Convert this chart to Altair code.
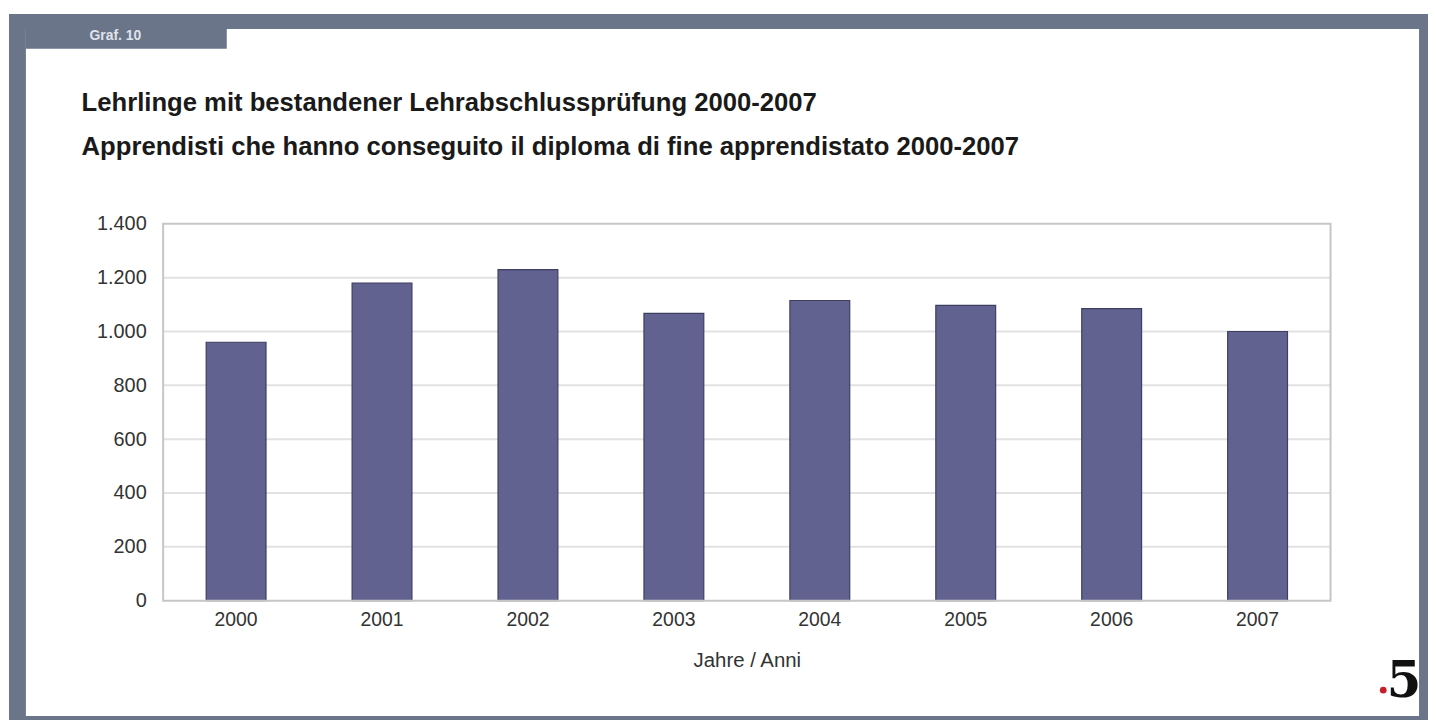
import altair as alt
import pandas as pd

years = ["2000", "2001", "2002", "2003", "2004", "2005", "2006", "2007"]
values = [960, 1180, 1230, 1067, 1115, 1097, 1085, 1000]
grid_values = [200, 400, 600, 800, 1000, 1200]
y_ticks = [0, 200, 400, 600, 800, 1000, 1200, 1400]
y_domain = [0, 1400]

title_lines = [
    "Lehrlinge mit bestandener Lehrabschlussprüfung 2000-2007",
    "Apprendisti che hanno conseguito il diploma di fine apprendistato 2000-2007",
]
tab_label = "Graf. 10"
x_title = "Jahre / Anni"

W, H = 1174, 379
FRAME = "#6b7589"
FONT = "Liberation Sans"

df = pd.DataFrame({"year": years, "value": values})
one = pd.DataFrame({"k": [0]})

yscale = alt.Scale(domain=y_domain)
yaxis = alt.Axis(title=None, values=y_ticks,
                 labelExpr="replace(format(datum.value, ','), ',', '.')",
                 labelFontSize=20, labelFont=FONT, labelColor="#333333",
                 labelPadding=17, ticks=False, domain=False, grid=False,
                 zindex=1)

outer = alt.Chart(one).mark_rect(color=FRAME).encode(
    x=alt.value(-155), x2=alt.value(1272), y=alt.value(-211), y2=alt.value(499))
inner = alt.Chart(one).mark_rect(color="white").encode(
    x=alt.value(-138), x2=alt.value(1263), y=alt.value(-196), y2=alt.value(495))
tab = alt.Chart(one).mark_rect(color=FRAME).encode(
    x=alt.value(-138), x2=alt.value(64), y=alt.value(-198), y2=alt.value(-176))
tab_text = alt.Chart(one).mark_text(
    text=tab_label, font=FONT, fontSize=14, fontWeight="bold", color="#dfe3ea",
    align="center", baseline="middle").encode(x=alt.value(-48), y=alt.value(-189))
t1 = alt.Chart(one).mark_text(
    text=title_lines[0], font=FONT, fontSize=25.8, fontWeight="bold", color="#1a1a1a",
    align="left", baseline="middle").encode(x=alt.value(-82), y=alt.value(-121))
t2 = alt.Chart(one).mark_text(
    text=title_lines[1], font=FONT, fontSize=25.8, fontWeight="bold", color="#1a1a1a",
    align="left", baseline="middle").encode(x=alt.value(-82), y=alt.value(-77))

grid = alt.Chart(pd.DataFrame({"v": grid_values})).mark_rule(
    color="#e2e2e2", strokeWidth=2).encode(
    y=alt.Y("v:Q", scale=yscale, axis=yaxis))

bars = alt.Chart(df).mark_bar(
    color="#626291", stroke="#3e3e60", strokeWidth=1.2).encode(
    x=alt.X("year:N", sort=years,
            scale=alt.Scale(paddingInner=0.59, paddingOuter=0.295),
            axis=alt.Axis(title=x_title, labelAngle=0, labelFontSize=19.5,
                          labelFont=FONT, labelColor="#333333",
                          titleFont=FONT, titleFontSize=20.5, titleFontWeight="normal",
                          titleColor="#333333", titlePadding=22,
                          labelPadding=10, ticks=False, domain=False, grid=False,
                          zindex=1)),
    y=alt.Y("value:Q", scale=yscale, axis=yaxis),
)

border = alt.Chart(one).mark_rect(fill=None, stroke="#c6c6c6", strokeWidth=2).encode(
    x=alt.value(0), x2=alt.value(W), y=alt.value(0), y2=alt.value(H))

logo = alt.Chart(one).mark_text(
    text="5", font="DejaVu Serif", fontSize=50, fontWeight="bold", color="#111111",
    align="center", baseline="middle").encode(x=alt.value(1248), y=alt.value(461))
logo_dot = alt.Chart(one).mark_point(
    filled=True, color="#c8202a", size=45, opacity=1).encode(
    x=alt.value(1227), y=alt.value(469))

chart = alt.layer(outer, inner, tab, tab_text, t1, t2, grid, bars, border, logo, logo_dot).properties(
    width=W, height=H,
    autosize="none",
    padding={"left": 156, "top": 215, "right": 98, "bottom": 120},
).configure_view(stroke=None)

chart.save("out.html", embed_options={"renderer": "svg", "actions": False})
